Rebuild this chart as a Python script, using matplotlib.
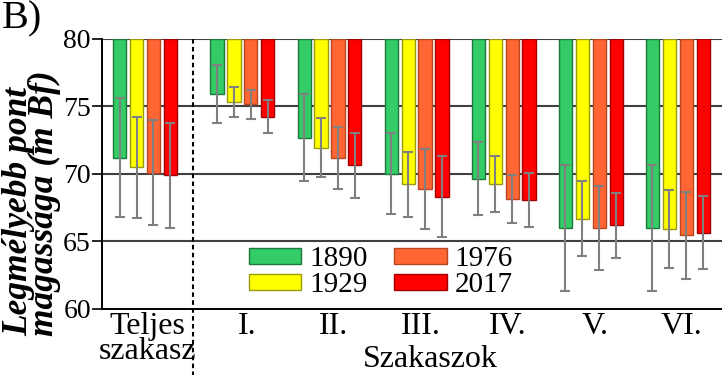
import numpy as np
import matplotlib
matplotlib.use('Agg')
import matplotlib.pyplot as plt

plt.rcParams['font.family'] = ['Liberation Serif', 'DejaVu Serif']

# Data (m Bf), mean and standard deviation per section
sections = ['Teljes\nszakasz', 'I.', 'II.', 'III.', 'IV.', 'V.', 'VI.']
years = ['1890', '1929', '1976', '2017']

mean_1890 = [71.2, 75.95, 72.7, 70.0, 69.65, 66.0, 66.0]
mean_1929 = [70.5, 75.35, 71.95, 69.25, 69.25, 66.7, 65.9]
mean_1976 = [70.1, 75.15, 71.2, 68.9, 68.15, 66.0, 65.45]
mean_2017 = [69.9, 74.25, 70.65, 68.3, 68.05, 66.2, 65.65]

sd_1890 = [4.4, 2.15, 3.2, 3.0, 2.7, 4.7, 4.7]
sd_1929 = [3.75, 1.1, 2.2, 2.4, 2.1, 2.8, 2.9]
sd_1976 = [3.9, 1.05, 2.3, 2.95, 1.8, 3.1, 3.2]
sd_2017 = [3.9, 1.25, 2.4, 3.0, 2.0, 2.4, 2.7]

means = [mean_1890, mean_1929, mean_1976, mean_2017]
sds = [sd_1890, sd_1929, sd_1976, sd_2017]

colors = ['#33cc66', '#ffff00', '#ff6633', '#ff0000']
edges = ['#1e7a3c', '#9a9a10', '#b8471f', '#a00000']

# group positions: whole section first, then a gap, then sections I-VI
xpos = np.r_[0, 1.12 + np.arange(6)]
width = 0.15
step = 0.195

fig = plt.figure(figsize=(7.22, 3.75), dpi=100)
ax = fig.add_axes([0.1413, 0.176, 0.8587, 0.72])

for y in [65, 70, 75, 80]:
    ax.axhline(y, color='#404040', lw=1.5, zorder=0)

for i in range(4):
    off = (i - 1.5) * step
    vals = np.array(means[i])
    ax.bar(xpos + off, vals - 80, width=width, bottom=80, color=colors[i],
           edgecolor=edges[i], linewidth=1, label=years[i], zorder=2)
    ax.errorbar(xpos + off, vals, yerr=sds[i], fmt='none', ecolor='#808080',
                elinewidth=1.5, capsize=3.3, capthick=1.5, zorder=3)

# dashed separator
ax.plot([0.552, 0.552], [80, 55.0], ls=(0, (2.2, 1.6)), color='black',
        lw=1.5, clip_on=False, zorder=4)

ax.set_ylim(60, 80)
ax.set_xlim(-0.494, 6.63)
ax.set_yticks([60, 65, 70, 75, 80])
ax.tick_params(axis='y', labelsize=20, direction='out', length=7, width=1.2, pad=1)
ax.set_xticks(xpos + np.r_[0.03, 0.05 * np.ones(6)])
ax.set_xticklabels(sections, fontsize=23, linespacing=0.85)
ax.tick_params(axis='x', length=0, pad=2)

for s in ['top', 'right']:
    ax.spines[s].set_visible(False)
ax.spines['left'].set_linewidth(1.4)
ax.spines['bottom'].set_linewidth(1.4)

# y label, both lines start at the bottom
fig.text(0.003, 0.105, 'Legmélyebb pont\nmagassága (m Bf)', fontsize=25.5,
         fontweight='bold', style='italic', rotation=90, ha='left', va='top',
         multialignment='left', linespacing=0.7, rotation_mode='anchor')

fig.text(0.596, 0.003, 'Szakaszok', ha='center', va='bottom', fontsize=23)

fig.text(0.003, 1.0, 'B)', fontsize=29, ha='left', va='top')

leg = ax.legend(loc='upper left', bbox_to_anchor=(0.237, 0.232), ncol=2,
                frameon=False, fontsize=21, handlelength=1.8, handleheight=0.45,
                handletextpad=0.28, columnspacing=0.9, labelspacing=0.0,
                borderaxespad=0, borderpad=0)
leg.set_zorder(5)

fig.savefig('out.png', dpi=100)
